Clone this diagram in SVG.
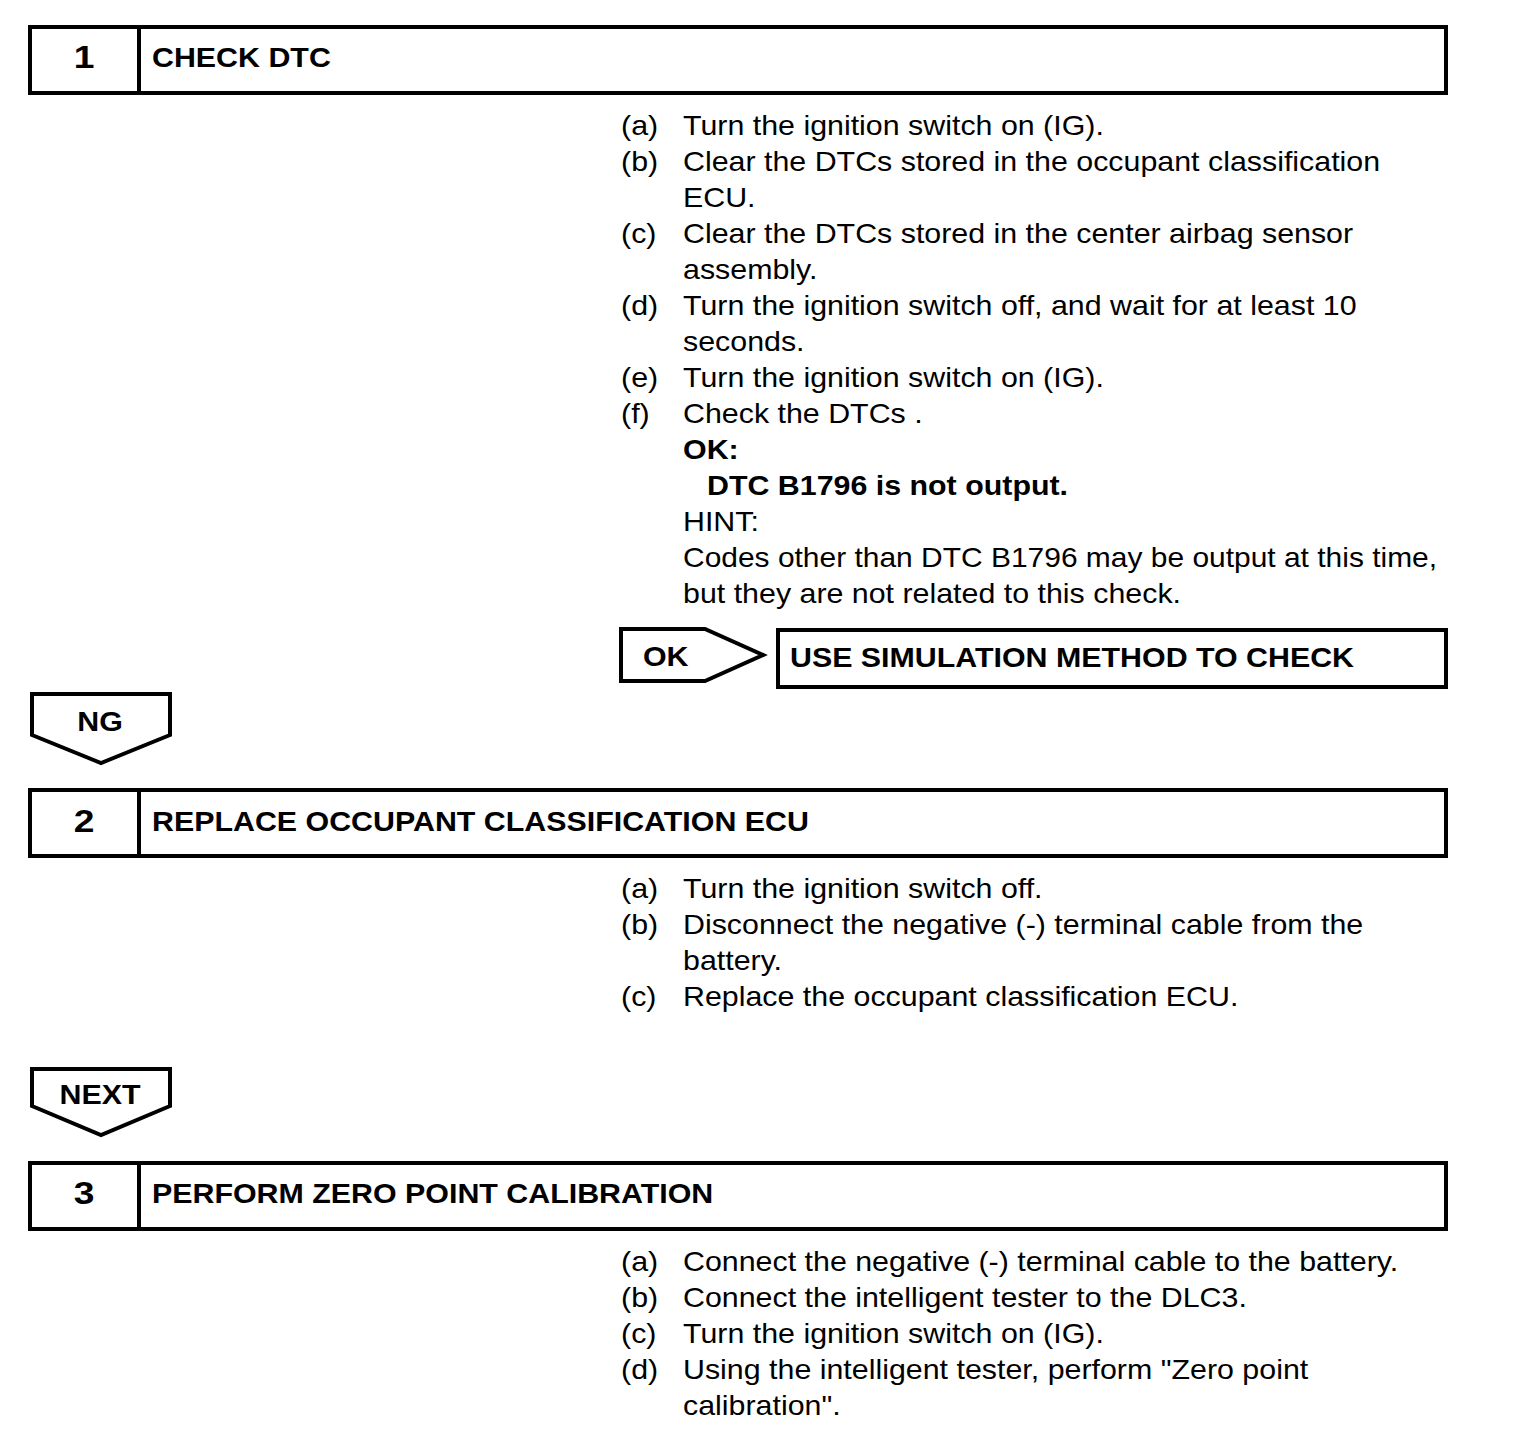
<svg xmlns="http://www.w3.org/2000/svg" width="1520" height="1440" viewBox="0 0 1520 1440">
<style>
.box{fill:#fff;stroke:#000;stroke-width:4}
.ln{fill:none;stroke:#000;stroke-width:4}
text{font-family:"Liberation Sans",Arial,sans-serif;font-size:28px;fill:#000}
.b{font-weight:bold}
.c{text-anchor:middle}
.num{font-weight:bold;font-size:31px;text-anchor:middle}
</style>
<rect width="1520" height="1440" fill="#fff"/>

<g id="step1">
<rect class="box" x="30" y="27" width="1416" height="66"/>
<line class="ln" x1="139" y1="27" x2="139" y2="93"/>
<text class="num" transform="translate(84 68) scale(1.2 1)">1</text>
<g transform="scale(1.085 1)">
<text class="b" x="140.1" y="67">CHECK DTC</text>
</g>
</g>

<g id="step1-body" transform="scale(1.085 1)">
<text x="572.4" y="135">(a)</text><text x="629.5" y="135">Turn the ignition switch on (IG).</text>
<text x="572.4" y="171">(b)</text><text x="629.5" y="171">Clear the DTCs stored in the occupant classification</text>
<text x="629.5" y="207">ECU.</text>
<text x="572.4" y="243">(c)</text><text x="629.5" y="243">Clear the DTCs stored in the center airbag sensor</text>
<text x="629.5" y="279">assembly.</text>
<text x="572.4" y="315">(d)</text><text x="629.5" y="315">Turn the ignition switch off, and wait for at least 10</text>
<text x="629.5" y="351">seconds.</text>
<text x="572.4" y="387">(e)</text><text x="629.5" y="387">Turn the ignition switch on (IG).</text>
<text x="572.4" y="423">(f)</text><text x="629.5" y="423">Check the DTCs .</text>
<text class="b" x="629.5" y="459">OK:</text>
<text class="b" x="651.6" y="495">DTC B1796 is not output.</text>
<text x="629.5" y="531">HINT:</text>
<text x="629.5" y="567" textLength="695" lengthAdjust="spacingAndGlyphs">Codes other than DTC B1796 may be output at this time,</text>
<text x="629.5" y="603">but they are not related to this check.</text>
</g>

<g id="ok-result">
<rect class="box" x="778" y="630" width="668" height="57"/>
<g transform="scale(1.085 1)">
<text class="b" x="728.1" y="667">USE SIMULATION METHOD TO CHECK</text>
</g>
</g>

<g id="connectors">
<g id="ok-arrow">
<polygon class="box" points="621,629 705,629 763,655 705,681 621,681"/>
<g transform="scale(1.085 1)"><text class="b" x="592.6" y="666">OK</text></g>
</g>
<g id="ng-arrow">
<polygon class="box" points="32,694 170,694 170,735 101,763 32,735"/>
<g transform="scale(1.085 1)"><text class="b c" x="92.2" y="731">NG</text></g>
</g>
<g id="next-arrow">
<polygon class="box" points="32,1069 170,1069 170,1106 101,1135 32,1106"/>
<g transform="scale(1.085 1)"><text class="b c" x="92.2" y="1104">NEXT</text></g>
</g>
</g>

<g id="step2">
<rect class="box" x="30" y="790" width="1416" height="66"/>
<line class="ln" x1="139" y1="790" x2="139" y2="856"/>
<text class="num" transform="translate(84 832) scale(1.2 1)">2</text>
<g transform="scale(1.085 1)">
<text class="b" x="140.1" y="831">REPLACE OCCUPANT CLASSIFICATION ECU</text>
</g>
</g>

<g id="step2-body" transform="scale(1.085 1)">
<text x="572.4" y="898">(a)</text><text x="629.5" y="898">Turn the ignition switch off.</text>
<text x="572.4" y="934">(b)</text><text x="629.5" y="934">Disconnect the negative (-) terminal cable from the</text>
<text x="629.5" y="970">battery.</text>
<text x="572.4" y="1006">(c)</text><text x="629.5" y="1006">Replace the occupant classification ECU.</text>
</g>

<g id="step3">
<rect class="box" x="30" y="1163" width="1416" height="66"/>
<line class="ln" x1="139" y1="1163" x2="139" y2="1229"/>
<text class="num" transform="translate(84 1204) scale(1.2 1)">3</text>
<g transform="scale(1.085 1)">
<text class="b" x="140.1" y="1203">PERFORM ZERO POINT CALIBRATION</text>
</g>
</g>

<g id="step3-body" transform="scale(1.085 1)">
<text x="572.4" y="1271">(a)</text><text x="629.5" y="1271">Connect the negative (-) terminal cable to the battery.</text>
<text x="572.4" y="1307">(b)</text><text x="629.5" y="1307">Connect the intelligent tester to the DLC3.</text>
<text x="572.4" y="1343">(c)</text><text x="629.5" y="1343">Turn the ignition switch on (IG).</text>
<text x="572.4" y="1379">(d)</text><text x="629.5" y="1379">Using the intelligent tester, perform "Zero point</text>
<text x="629.5" y="1415">calibration".</text>
</g>
</svg>
